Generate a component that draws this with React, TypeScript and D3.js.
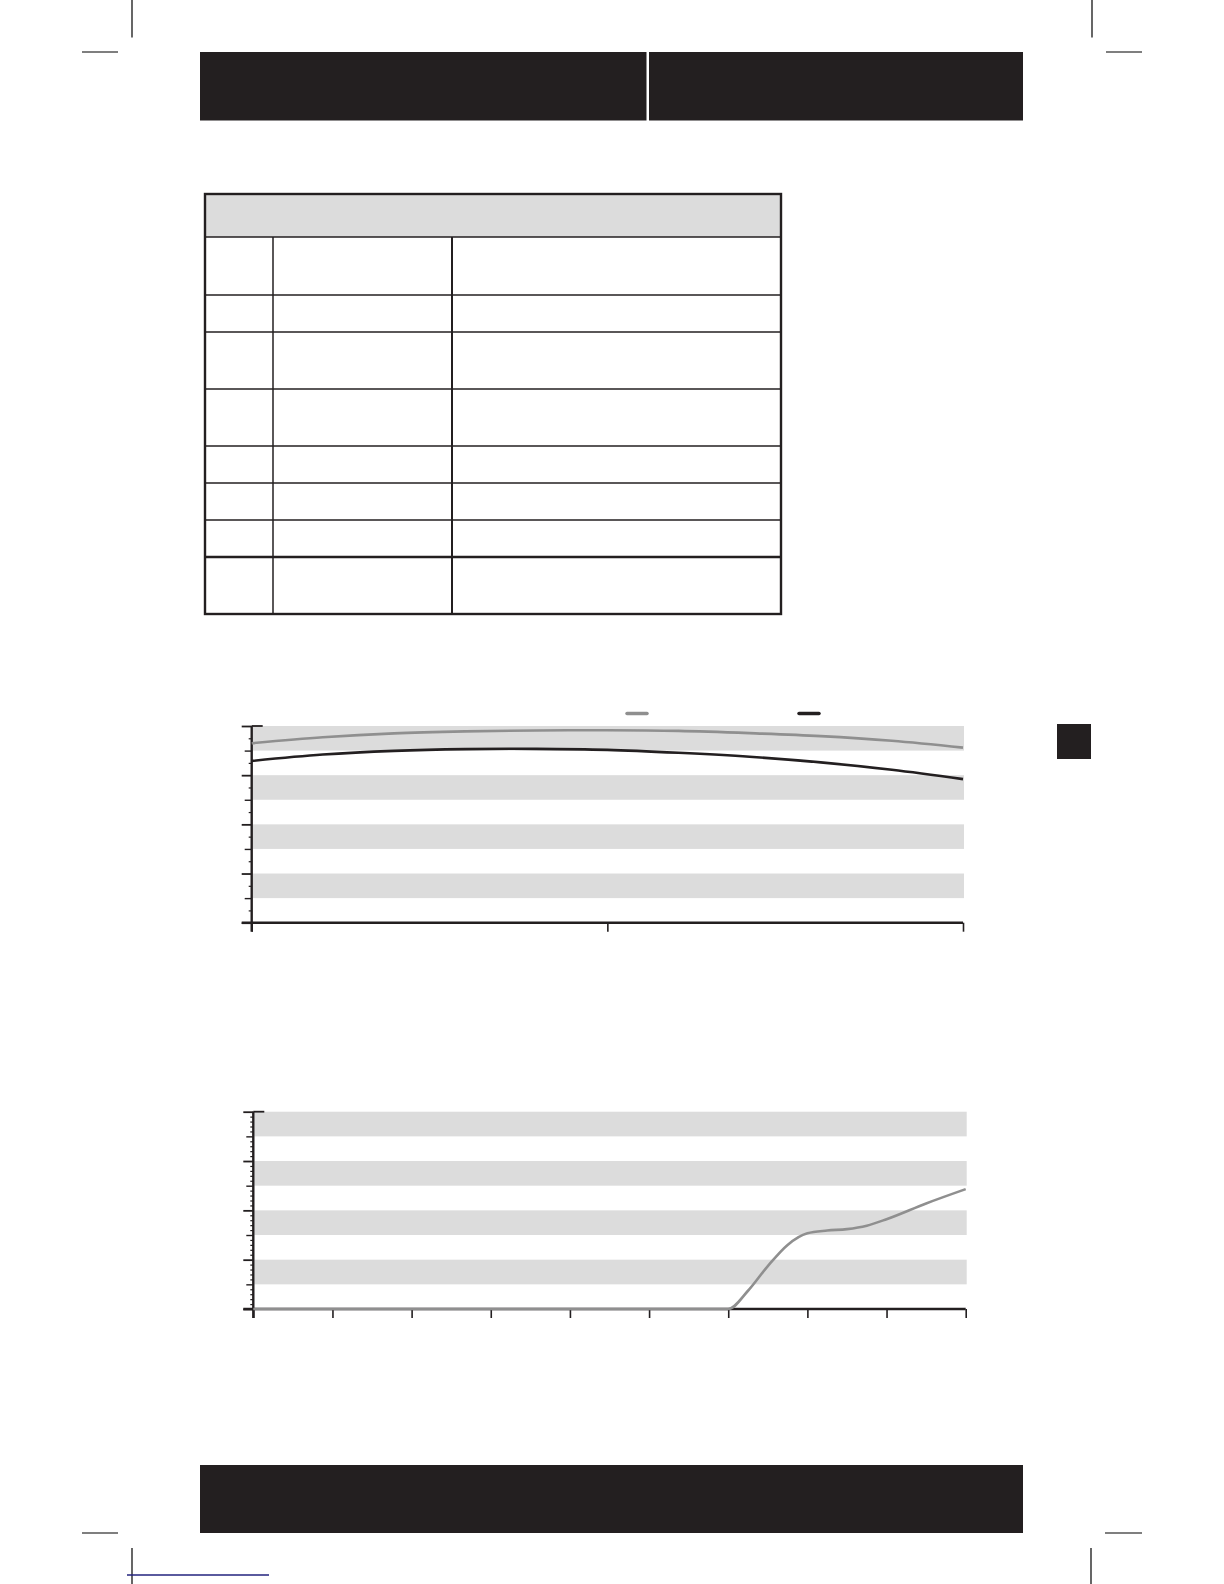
import { useEffect, useRef } from 'react'
import * as d3 from 'd3'

// page palette
const ink = '#231f20'
const bandFill = '#dcdcdc'
const greyLine = '#8f8f8f'

// upper chart: two curves over a 0–100 x span, y in band units (0–40)
const upperX = [0, 10, 20, 30, 40, 50, 60, 70, 80, 90, 100]
const upperGrey = [36.5, 37.7, 38.5, 38.9, 39.1, 39.15, 39.0, 38.55, 37.95, 37.0, 35.6]
const upperBlack = [32.9, 34.2, 34.95, 35.3, 35.35, 35.15, 34.55, 33.75, 32.6, 31.1, 29.2]
const upperXTicks = [0, 50, 100]

// lower chart: one curve over 9 tick intervals
const lowerX = [0, 1, 2, 3, 4, 5, 6, 6.25, 6.5, 6.75, 7, 7.25, 7.5, 7.75, 8, 8.5, 9]
const lowerY = [0, 0, 0, 0, 0, 0, 0, 3.7, 8.7, 13.0, 15.35, 15.9, 16.2, 16.9, 18.2, 21.4, 24.3]
const lowerXTicks = [0, 1, 2, 3, 4, 5, 6, 7, 8, 9]

// y scale shared by both charts
const yDomain: [number, number] = [0, 40]
const bandStep = 5

interface Series {
  x: number[]
  y: number[]
  color: string
  width: number
}

interface ChartOpts {
  left: number
  right: number
  top: number
  bottom: number
  xDomain: [number, number]
  xTicks: number[]
  minorStep: number
  curve: d3.CurveFactory
  series: Series[]
}

function drawChart(svg: d3.Selection<SVGSVGElement, unknown, null, undefined>, o: ChartOpts) {
  const x = d3.scaleLinear().domain(o.xDomain).range([o.left, o.right])
  const y = d3.scaleLinear().domain(yDomain).range([o.bottom, o.top])
  const g = svg.append('g')

  // alternating bands, grey on the odd ones
  const bands = d3.range(yDomain[0], yDomain[1], bandStep).filter((_, i) => i % 2 === 1)
  g.selectAll('.band')
    .data(bands)
    .join('rect')
    .attr('x', o.left + 1)
    .attr('y', (d) => y(d + bandStep))
    .attr('width', o.right - o.left)
    .attr('height', (d) => y(d) - y(d + bandStep))
    .attr('fill', bandFill)

  // y ticks at three lengths
  const major = d3.range(yDomain[0], yDomain[1] + 0.01, bandStep * 2)
  const mid = d3.range(yDomain[0] + bandStep, yDomain[1], bandStep * 2)
  const minor = d3
    .range(yDomain[0], yDomain[1] + 0.01, o.minorStep)
    .filter((v) => Math.abs(v % bandStep) > 0.001 && Math.abs((v % bandStep) - bandStep) > 0.001)

  const tickLayer = (vals: number[], size: number, w: number) =>
    g.append('g')
      .attr('transform', `translate(${o.left},0)`)
      .call(d3.axisLeft(y).tickValues(vals).tickSize(size).tickFormat(() => ''))
      .call((sel) => sel.select('.domain').remove())
      .call((sel) => sel.selectAll('line').attr('stroke', ink).attr('stroke-width', w))

  tickLayer(major, 10, 1.8)
  tickLayer(mid, 7, 1.4)
  tickLayer(minor, 3, 1.2)

  // cap on top of the y axis
  g.append('line')
    .attr('x1', o.left)
    .attr('x2', o.left + 11)
    .attr('y1', o.top)
    .attr('y2', o.top)
    .attr('stroke', ink)
    .attr('stroke-width', 1.8)

  // x ticks
  g.append('g')
    .attr('transform', `translate(0,${o.bottom})`)
    .call(d3.axisBottom(x).tickValues(o.xTicks).tickSize(9).tickFormat(() => ''))
    .call((sel) => sel.select('.domain').remove())
    .call((sel) => sel.selectAll('line').attr('stroke', ink).attr('stroke-width', 1.6))

  // axis lines
  g.append('line')
    .attr('x1', o.left)
    .attr('x2', o.left)
    .attr('y1', o.top)
    .attr('y2', o.bottom + 9)
    .attr('stroke', ink)
    .attr('stroke-width', 2.4)
  g.append('line')
    .attr('x1', o.left - 10)
    .attr('x2', o.right)
    .attr('y1', o.bottom)
    .attr('y2', o.bottom)
    .attr('stroke', ink)
    .attr('stroke-width', 2.4)

  // curves
  const line = d3
    .line<[number, number]>()
    .x((d) => x(d[0]))
    .y((d) => y(d[1]))
    .curve(o.curve)

  o.series.forEach((s) => {
    g.append('path')
      .datum(s.x.map((v, i) => [v, s.y[i]] as [number, number]))
      .attr('d', line)
      .attr('fill', 'none')
      .attr('stroke', s.color)
      .attr('stroke-width', s.width)
  })
}

export default function App() {
  const ref = useRef<SVGSVGElement>(null)

  useEffect(() => {
    if (!ref.current) return
    const W = 1224
    const H = 1584

    d3.select(ref.current).selectAll('*').remove()
    const svg = d3.select(ref.current).attr('width', W).attr('height', H).attr('viewBox', `0 0 ${W} ${H}`)

    svg.append('rect').attr('width', W).attr('height', H).attr('fill', '#fff')

    // crop marks
    const marks: [number, number, number, number][] = [
      [132, 0, 132, 37.5],
      [82, 52, 118, 52],
      [1092, 0, 1092, 37.5],
      [1106, 52, 1142, 52],
      [132, 1548, 132, 1584],
      [82, 1533, 118, 1533],
      [1091, 1548, 1091, 1584],
      [1105, 1533, 1142, 1533],
    ]
    svg.selectAll('.mark')
      .data(marks)
      .join('line')
      .attr('x1', (d) => d[0])
      .attr('y1', (d) => d[1])
      .attr('x2', (d) => d[2])
      .attr('y2', (d) => d[3])
      .attr('stroke', '#000')
      .attr('stroke-width', 1.2)

    svg.append('line')
      .attr('x1', 127).attr('x2', 269).attr('y1', 1575).attr('y2', 1575)
      .attr('stroke', '#23237e').attr('stroke-width', 1.3)

    // header and footer bars
    svg.append('rect').attr('x', 200).attr('y', 52).attr('width', 446.5).attr('height', 68.5).attr('fill', ink)
    svg.append('rect').attr('x', 649).attr('y', 52).attr('width', 374).attr('height', 68.5).attr('fill', ink)
    svg.append('rect').attr('x', 200).attr('y', 1465).attr('width', 823).attr('height', 68).attr('fill', ink)

    // side tab
    svg.append('rect').attr('x', 1057).attr('y', 724).attr('width', 34).attr('height', 35).attr('fill', ink)

    // table
    const rows = [194, 237, 295, 332, 389, 446, 483, 520, 557, 614]
    const cols = [205, 273, 452, 781]
    const t = svg.append('g')
    t.append('rect')
      .attr('x', cols[0]).attr('y', rows[0])
      .attr('width', cols[3] - cols[0]).attr('height', rows[1] - rows[0])
      .attr('fill', bandFill)
    t.selectAll('.hrow')
      .data(rows.slice(1, -1))
      .join('line')
      .attr('x1', cols[0]).attr('x2', cols[3])
      .attr('y1', (d) => d).attr('y2', (d) => d)
      .attr('stroke', ink)
      .attr('stroke-width', (d, i) => (i === rows.length - 3 ? 2.4 : 1.4))
    t.selectAll('.vcol')
      .data(cols.slice(1, -1))
      .join('line')
      .attr('x1', (d) => d).attr('x2', (d) => d)
      .attr('y1', rows[1]).attr('y2', rows[rows.length - 1])
      .attr('stroke', ink)
      .attr('stroke-width', (d, i) => (i === 1 ? 2 : 1.5))
    t.append('rect')
      .attr('x', cols[0]).attr('y', rows[0])
      .attr('width', cols[3] - cols[0]).attr('height', rows[rows.length - 1] - rows[0])
      .attr('fill', 'none').attr('stroke', ink).attr('stroke-width', 2.4)

    // legend swatches of the upper chart
    svg.append('line')
      .attr('x1', 627).attr('x2', 647).attr('y1', 713.5).attr('y2', 713.5)
      .attr('stroke', greyLine).attr('stroke-width', 3.5).attr('stroke-linecap', 'round')
    svg.append('line')
      .attr('x1', 799).attr('x2', 819).attr('y1', 713.5).attr('y2', 713.5)
      .attr('stroke', ink).attr('stroke-width', 3.5).attr('stroke-linecap', 'round')

    drawChart(svg, {
      left: 251.7,
      right: 963,
      top: 726,
      bottom: 922.7,
      xDomain: [0, 100],
      xTicks: upperXTicks,
      minorStep: 2.5,
      curve: d3.curveCatmullRom,
      series: [
        { x: upperX, y: upperGrey, color: greyLine, width: 2.6 },
        { x: upperX, y: upperBlack, color: ink, width: 2.6 },
      ],
    })

    drawChart(svg, {
      left: 253.3,
      right: 965.7,
      top: 1111.7,
      bottom: 1309,
      xDomain: [0, 9],
      xTicks: lowerXTicks,
      minorStep: 1,
      curve: d3.curveMonotoneX,
      series: [{ x: lowerX, y: lowerY, color: greyLine, width: 2.6 }],
    })
  }, [])

  return (
    <svg
      ref={ref}
      style={{ position: 'absolute', left: 0, top: 0, display: 'block' }}
    />
  )
}
